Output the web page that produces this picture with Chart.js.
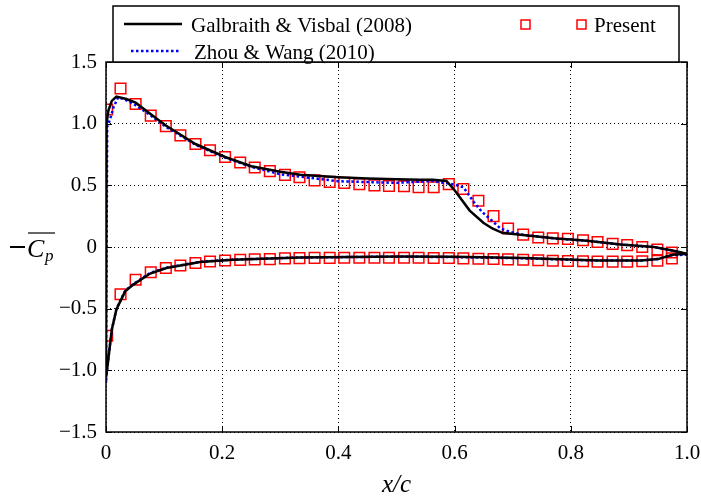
<!DOCTYPE html>
<html>
<head>
<meta charset="utf-8">
<script src="https://cdn.jsdelivr.net/npm/chart.js@4.4.1/dist/chart.umd.min.js"></script>
<style>
  html, body { margin: 0; padding: 0; background: #fff; }
  #wrap { width: 701px; height: 500px; }
</style>
</head>
<body>
<div id="wrap"><canvas id="cpChart"></canvas></div>
<script>
// Galbraith & Visbal (2008): upper surface from trailing edge to leading edge, then lower surface back
const galbraithX = [1.0, 0.977, 0.943, 0.886, 0.828, 0.771, 0.713, 0.682, 0.665, 0.65, 0.626, 0.60, 0.586, 0.563, 0.54, 0.50, 0.45, 0.40, 0.334, 0.30, 0.25, 0.205, 0.154, 0.103, 0.076, 0.051, 0.035, 0.018, 0.01, 0.004, 0.001, 0.0,
    0.002, 0.01, 0.018, 0.033, 0.047, 0.076, 0.104, 0.162, 0.219, 0.334, 0.506, 0.60, 0.719, 0.846, 0.92, 0.95, 0.975, 1.0];
const galbraithCp = [-0.055, -0.03, 0.0, 0.02, 0.05, 0.07, 0.10, 0.115, 0.15, 0.195, 0.295, 0.46, 0.535, 0.545, 0.545, 0.55, 0.555, 0.565, 0.585, 0.61, 0.655, 0.73, 0.835, 0.985, 1.08, 1.17, 1.20, 1.22, 1.185, 1.105, 1.0, -1.05,
    -0.99, -0.67, -0.505, -0.36, -0.305, -0.215, -0.17, -0.122, -0.104, -0.085, -0.077, -0.08, -0.09, -0.109, -0.109, -0.098, -0.063, -0.055];

// Zhou & Wang (2010)
const zhouX = [1.0, 0.977, 0.943, 0.886, 0.828, 0.771, 0.719, 0.696, 0.679, 0.664, 0.647, 0.633, 0.615, 0.604, 0.59, 0.56, 0.50, 0.40, 0.30, 0.25, 0.205, 0.154, 0.103, 0.076, 0.051, 0.035, 0.021, 0.013, 0.007, 0.002, 0.0,
    0.002, 0.01, 0.018, 0.033, 0.047, 0.076, 0.104, 0.162, 0.219, 0.334, 0.506, 0.60, 0.719, 0.846, 0.92, 0.95, 0.975, 1.0];
const zhouCp = [-0.063, -0.03, 0.0, 0.02, 0.05, 0.07, 0.098, 0.122, 0.15, 0.215, 0.285, 0.365, 0.485, 0.50, 0.515, 0.535, 0.52, 0.533, 0.59, 0.65, 0.725, 0.83, 0.975, 1.07, 1.15, 1.19, 1.215, 1.135, 1.035, 0.975, -1.1,
    -0.98, -0.67, -0.50, -0.355, -0.30, -0.21, -0.168, -0.12, -0.102, -0.085, -0.078, -0.082, -0.092, -0.11, -0.11, -0.098, -0.065, -0.063];

// Present: same stations on both surfaces
const presentX = [0.002, 0.025, 0.051, 0.077, 0.103, 0.128, 0.154, 0.179, 0.205, 0.231, 0.256, 0.282, 0.308, 0.333, 0.359, 0.385, 0.410, 0.436, 0.462, 0.487,
    0.513, 0.538, 0.564, 0.590, 0.615, 0.641, 0.667, 0.692, 0.718, 0.744, 0.769, 0.795, 0.821, 0.846, 0.872, 0.897, 0.923, 0.949, 0.974];
const presentUpper = [1.115, 1.285, 1.16, 1.065, 0.98, 0.905, 0.835, 0.785, 0.73, 0.685, 0.645, 0.615, 0.585, 0.565, 0.54, 0.528, 0.52, 0.51, 0.50, 0.495,
    0.493, 0.485, 0.485, 0.51, 0.47, 0.375, 0.25, 0.15, 0.10, 0.077, 0.07, 0.066, 0.055, 0.04, 0.025, 0.015, 0.0, -0.02, -0.045];
const presentLower = [-0.72, -0.383, -0.265, -0.205, -0.17, -0.15, -0.13, -0.117, -0.109, -0.104, -0.10, -0.098, -0.092, -0.09, -0.088, -0.088, -0.087, -0.087, -0.087, -0.087,
    -0.087, -0.087, -0.089, -0.089, -0.092, -0.095, -0.097, -0.10, -0.103, -0.108, -0.111, -0.114, -0.116, -0.119, -0.119, -0.119, -0.116, -0.111, -0.092];

const xTicks = [0, 0.2, 0.4, 0.6, 0.8, 1.0];
const yTicks = [-1.5, -1.0, -0.5, 0, 0.5, 1.0, 1.5];

const SERIF = '"Liberation Serif", "DejaVu Serif", serif';

function toPoints(xs, ys) {
    return xs.map((x, i) => ({ x: x, y: ys[i] }));
}

function fmtTick(v) {
    if (v === 0) return '0';
    return v.toFixed(1).replace('-', '\u2212');
}

// frame, inward ticks, legend box and y-axis title, matlab style
const decorations = {
    id: 'decorations',
    afterDraw(chart) {
        const ctx = chart.ctx;
        const a = chart.chartArea;
        const xs = chart.scales.x, ys = chart.scales.y;
        ctx.save();
        ctx.strokeStyle = '#000';
        ctx.lineWidth = 1.5;
        ctx.strokeRect(a.left, a.top, a.right - a.left, a.bottom - a.top);

        ctx.lineWidth = 1;
        ctx.beginPath();
        xTicks.forEach(t => {
            const px = Math.round(xs.getPixelForValue(t)) + 0.5;
            ctx.moveTo(px, a.bottom); ctx.lineTo(px, a.bottom - 6);
            ctx.moveTo(px, a.top); ctx.lineTo(px, a.top + 6);
        });
        yTicks.forEach(t => {
            const py = Math.round(ys.getPixelForValue(t)) + 0.5;
            ctx.moveTo(a.left, py); ctx.lineTo(a.left + 6, py);
            ctx.moveTo(a.right, py); ctx.lineTo(a.right - 6, py);
        });
        ctx.stroke();

        // legend
        const ds = chart.data.datasets;
        ctx.fillStyle = '#fff';
        ctx.fillRect(113, 6, 566, 56);
        ctx.lineWidth = 1.5;
        ctx.strokeRect(113, 6, 566, 56);

        ctx.font = '21px ' + SERIF;
        ctx.textBaseline = 'middle';
        ctx.fillStyle = '#000';

        ctx.strokeStyle = '#000';
        ctx.lineWidth = 2.5;
        ctx.beginPath(); ctx.moveTo(124, 24); ctx.lineTo(182, 24); ctx.stroke();
        ctx.fillText(ds[0].label, 191, 26);

        ctx.strokeStyle = '#0000ff';
        ctx.setLineDash([2.5, 2.5]);
        ctx.beginPath(); ctx.moveTo(131, 51); ctx.lineTo(181, 51); ctx.stroke();
        ctx.setLineDash([]);
        ctx.fillText(ds[1].label, 194, 53);

        ctx.strokeStyle = '#ff0000';
        ctx.lineWidth = 1.5;
        ctx.strokeRect(521, 20, 9, 9);
        ctx.strokeRect(577, 20, 9, 9);
        ctx.fillText(ds[2].label, 594, 26);

        // y title: -C_p with overline
        ctx.strokeStyle = '#000';
        ctx.lineWidth = 2;
        ctx.beginPath(); ctx.moveTo(10, 247); ctx.lineTo(25, 247); ctx.stroke();
        ctx.font = 'italic 26px ' + SERIF;
        ctx.textBaseline = 'alphabetic';
        ctx.fillText('C', 27, 257);
        ctx.font = 'italic 17px ' + SERIF;
        ctx.fillText('p', 45, 261);
        ctx.lineWidth = 1.2;
        ctx.beginPath(); ctx.moveTo(28, 233); ctx.lineTo(55, 233); ctx.stroke();
        ctx.restore();
    }
};

new Chart(document.getElementById('cpChart'), {
    type: 'scatter',
    data: {
        datasets: [
            {
                label: 'Galbraith & Visbal (2008)',
                data: toPoints(galbraithX, galbraithCp),
                showLine: true,
                borderColor: '#000',
                borderWidth: 2.5,
                pointRadius: 0,
                tension: 0
            },
            {
                label: 'Zhou & Wang (2010)',
                data: toPoints(zhouX, zhouCp),
                showLine: true,
                borderColor: '#0000ff',
                borderWidth: 2.5,
                borderDash: [2.5, 2.5],
                pointRadius: 0,
                tension: 0
            },
            {
                label: 'Present',
                data: toPoints(presentX, presentUpper).concat(toPoints(presentX, presentLower)),
                showLine: false,
                pointStyle: 'rect',
                pointRadius: 7.5,
                borderColor: '#ff0000',
                backgroundColor: 'rgba(0,0,0,0)',
                borderWidth: 1.5
            }
        ]
    },
    options: {
        responsive: true,
        maintainAspectRatio: false,
        animation: false,
        layout: { padding: { top: 62, right: 14, left: 0, bottom: 0 } },
        plugins: {
            legend: { display: false },
            tooltip: { enabled: false }
        },
        scales: {
            x: {
                type: 'linear',
                min: 0,
                max: 1,
                afterBuildTicks: s => { s.ticks = xTicks.map(v => ({ value: v })); },
                afterFit: s => { s.height = 68; s.paddingLeft = 0; s.paddingRight = 0; },
                ticks: {
                    callback: fmtTick,
                    color: '#000',
                    font: { family: SERIF, size: 21 },
                    padding: 9,
                    maxRotation: 0
                },
                grid: { color: '#000', lineWidth: 1, drawTicks: false },
                border: { display: false, dash: [1, 3] },
                title: {
                    display: true,
                    text: 'x/c',
                    color: '#000',
                    font: { family: SERIF, size: 25, style: 'italic' },
                    padding: { top: 9, bottom: 0 }
                }
            },
            y: {
                type: 'linear',
                min: -1.5,
                max: 1.5,
                afterBuildTicks: s => { s.ticks = yTicks.map(v => ({ value: v })); },
                afterFit: s => { s.width = 106; s.paddingTop = 0; s.paddingBottom = 0; },
                ticks: {
                    callback: fmtTick,
                    color: '#000',
                    font: { family: SERIF, size: 21 },
                    padding: 9
                },
                grid: { color: '#000', lineWidth: 1, drawTicks: false },
                border: { display: false, dash: [1, 3] }
            }
        }
    },
    plugins: [decorations]
});
</script>
</body>
</html>
